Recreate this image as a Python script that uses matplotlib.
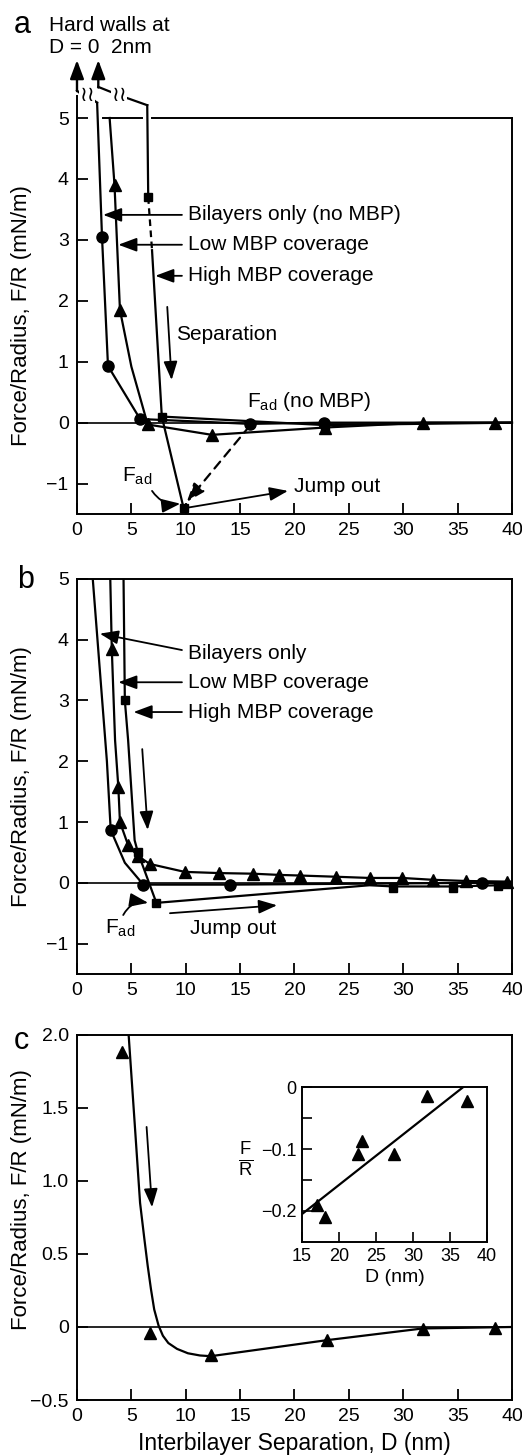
import numpy as np
import matplotlib.pyplot as plt

plt.rcParams['font.family'] = ['Liberation Sans', 'DejaVu Sans']
plt.rcParams['font.size'] = 15
plt.rcParams['axes.linewidth'] = 1.4
plt.rcParams['xtick.direction'] = 'in'
plt.rcParams['ytick.direction'] = 'in'
plt.rcParams['xtick.major.size'] = 8
plt.rcParams['ytick.major.size'] = 8
plt.rcParams['xtick.major.width'] = 1.3
plt.rcParams['ytick.major.width'] = 1.3
plt.rcParams['xtick.major.pad'] = 6
plt.rcParams['ytick.major.pad'] = 6

# === panel a data ===
a_bil_line_d = [1.85, 2.3, 2.85, 5.8, 15.9, 22.7, 40.0]
a_bil_line_f = [5.25, 3.05, 0.93, 0.06, -0.02, 0.0, 0.0]
a_bil_pts_d = [2.3, 2.85, 5.8, 15.9, 22.7]
a_bil_pts_f = [3.05, 0.93, 0.06, -0.02, 0.0]

a_low_line_d = [3.0, 3.45, 3.95, 5.0, 6.5, 12.4, 22.8, 31.8, 40.0]
a_low_line_f = [5.0, 3.9, 1.85, 0.92, -0.03, -0.2, -0.08, 0.0, 0.0]
a_low_pts_d = [3.45, 3.95, 6.5, 12.4, 22.8, 31.8, 38.4]
a_low_pts_f = [3.9, 1.85, -0.03, -0.2, -0.08, 0.0, 0.0]

a_high_top_d = [6.46, 6.55]
a_high_top_f = [5.21, 3.7]
a_high_dash_d = [6.55, 6.9]
a_high_dash_f = [3.7, 2.83]
a_high_line_d = [6.9, 7.8, 9.8]
a_high_line_f = [2.83, 0.1, -1.4]
a_high_sep_d = [7.8, 22.8, 40.0]
a_high_sep_f = [0.1, -0.04, 0.0]
a_high_pts_d = [6.55, 7.8, 9.8, 22.8]
a_high_pts_f = [3.7, 0.1, -1.4, -0.05]

# === panel b data ===
b_bil_line_d = [1.2, 1.45, 2.75, 3.1, 4.4, 6.1, 14.1, 37.2, 40.0]
b_bil_line_f = [5.6, 5.0, 2.0, 0.87, 0.33, -0.03, -0.03, 0.0, 0.0]
b_bil_pts_d = [3.1, 6.1, 14.1, 37.2]
b_bil_pts_f = [0.87, -0.03, -0.03, 0.0]

b_low_line_d = [3.0, 3.2, 3.5, 3.8, 3.95, 4.7, 5.6, 6.7, 9.9, 13.1, 16.2, 18.6,
                20.5, 23.8, 26.9, 29.9, 32.7, 35.8, 39.5, 40.0]
b_low_line_f = [5.5, 3.85, 2.35, 1.58, 1.0, 0.62, 0.44, 0.31, 0.18, 0.16, 0.15, 0.13,
                0.12, 0.10, 0.08, 0.08, 0.05, 0.03, 0.02, 0.02]
b_low_pts_d = [3.2, 3.8, 3.95, 4.7, 5.6, 6.7, 9.9, 13.1, 16.2, 18.6, 20.5, 23.8,
               26.9, 29.9, 32.7, 35.8, 39.5]
b_low_pts_f = [3.85, 1.58, 1.0, 0.62, 0.44, 0.31, 0.18, 0.16, 0.15, 0.13, 0.12, 0.10,
               0.08, 0.08, 0.05, 0.03, 0.02]

b_high_line_d = [4.25, 4.4, 4.7, 5.3, 5.6, 7.3, 26.9, 29.1, 34.6, 38.7, 40.0]
b_high_line_f = [5.5, 3.0, 2.35, 0.7, 0.5, -0.33, -0.04, -0.06, -0.06, -0.04, -0.03]
b_high_pts_d = [4.4, 5.6, 7.3, 29.1, 34.6, 38.7]
b_high_pts_f = [3.0, 0.5, -0.33, -0.08, -0.08, -0.05]

# === panel c data ===
c_line_d = [4.6, 4.75, 5.3, 5.8, 6.2, 6.5, 6.8, 7.1, 7.5, 7.9, 8.4, 9.2, 10.2, 11.3,
            12.3, 23.0, 31.8, 40.0]
c_line_f = [2.2, 2.0, 1.4, 0.85, 0.6, 0.42, 0.26, 0.12, 0.01, -0.06, -0.11, -0.15,
            -0.18, -0.195, -0.2, -0.09, -0.01, 0.0]
c_pts_d = [4.1, 6.7, 12.3, 23.0, 31.8, 38.4]
c_pts_f = [1.88, -0.04, -0.19, -0.09, -0.015, -0.005]

# inset: adhesion vs D with straight fit
ins_d = [17.0, 18.1, 22.6, 23.1, 27.4, 31.9, 37.3]
ins_f = [-0.19, -0.21, -0.108, -0.087, -0.108, -0.015, -0.023]
ins_fit_d = [15.0, 36.8]
ins_fit_f = [-0.205, 0.0]

xticks = [0, 5, 10, 15, 20, 25, 30, 35, 40]
ab_yticks = [-1, 0, 1, 2, 3, 4, 5]
ab_ylabels = ['\u22121', '0', '1', '2', '3', '4', '5']
c_yticks = [-0.5, 0, 0.5, 1.0, 1.5, 2.0]
c_ylabels = ['\u22120.5', '0', '0.5', '1.0', '1.5', '2.0']

lw = 1.6
fs = 15
arr = dict(arrowstyle='-|>,head_length=0.75,head_width=0.28', lw=1.3, color='k',
           shrinkA=0, shrinkB=0)

fig = plt.figure(figsize=(5.22, 14.55), dpi=100)
ax_a = fig.add_axes([0.1475, 0.6467, 0.8333, 0.2722])
ax_b = fig.add_axes([0.1475, 0.3306, 0.8333, 0.2715])
ax_c = fig.add_axes([0.1475, 0.0378, 0.8333, 0.2509])
ax_i = fig.add_axes([0.5785, 0.1464, 0.3544, 0.1065])

for ax in (ax_a, ax_b, ax_c):
    ax.set_xlim(0, 40)
    ax.set_xticks(xticks)
    ax.axhline(0, color='k', lw=1.2, zorder=1)
    ax.tick_params(top=False, right=False, labelsize=14)

# ---- panel a ----
ax = ax_a
ax.set_ylim(-1.5, 5)
ax.set_yticks(ab_yticks)
ax.set_yticklabels(ab_ylabels)
ax.spines['top'].set_visible(False)
ax.spines['left'].set_visible(False)
ax.plot([0, 0], [-1.5, 5.38], color='k', lw=1.4, clip_on=False, solid_capstyle='butt')
ax.plot([2.4, 5.98], [5, 5], color='k', lw=1.4, clip_on=False)
ax.plot([6.9, 40], [5, 5], color='k', lw=1.4, clip_on=False)

ax.plot(a_bil_line_d, a_bil_line_f, color='k', lw=lw, clip_on=False)
ax.plot(a_low_line_d, a_low_line_f, color='k', lw=lw, clip_on=False)
ax.plot(a_high_top_d, a_high_top_f, color='k', lw=lw, clip_on=False)
ax.plot(a_high_dash_d, a_high_dash_f, color='k', lw=lw, ls=(0, (3, 2)))
ax.plot(a_high_line_d, a_high_line_f, color='k', lw=lw)
ax.plot(a_high_sep_d, a_high_sep_f, color='k', lw=lw)
ax.plot(a_bil_pts_d, a_bil_pts_f, 'o', color='k', ms=8, clip_on=False)
ax.plot(a_low_pts_d, a_low_pts_f, '^', color='k', ms=8, clip_on=False)
ax.plot(a_high_pts_d, a_high_pts_f, 's', color='k', ms=6, clip_on=False)

# hard wall arrows above the frame
ax.plot([0, 0.45, 1.5, 1.85], [5.45, 5.38, 5.3, 5.25], color='k', lw=lw, clip_on=False)
ax.annotate('', xy=(0, 5.95), xytext=(0, 5.44), annotation_clip=False,
            arrowprops=dict(arr, lw=1.7))
ax.plot([1.96, 3.5], [5.51, 5.4], color='k', lw=lw, clip_on=False)
ax.plot([4.25, 6.46], [5.35, 5.21], color='k', lw=lw, clip_on=False)
ax.annotate('', xy=(1.96, 5.95), xytext=(1.96, 5.5), annotation_clip=False,
            arrowprops=dict(arr, lw=1.7))
for bx, by in [(0.95, 5.37), (3.9, 5.38)]:
    ax.text(bx, by, '\u2240\u2240', ha='center', va='center', fontsize=15,
            family=['DejaVu Sans'], clip_on=False,
            bbox=dict(fc='white', ec='none', pad=0.2))

ax.annotate('', xy=(2.4, 3.41), xytext=(9.65, 3.41), arrowprops=arr)
ax.text(10.2, 3.41, 'Bilayers only (no MBP)', va='center', fontsize=fs)
ax.annotate('', xy=(3.8, 2.92), xytext=(9.65, 2.92), arrowprops=arr)
ax.text(10.2, 2.92, 'Low MBP coverage', va='center', fontsize=fs)
ax.annotate('', xy=(7.2, 2.41), xytext=(9.65, 2.41), arrowprops=arr)
ax.text(10.2, 2.41, 'High MBP coverage', va='center', fontsize=fs)
ax.annotate('', xy=(8.7, 0.7), xytext=(8.3, 1.9), arrowprops=arr)
ax.text(9.1, 1.44, 'Separation', va='center', fontsize=fs)
ax.text(15.6, 0.35, r'F$_{\mathregular{ad}}$ (no MBP)', va='center', fontsize=fs)
ax.annotate('', xy=(10.1, -1.3), xytext=(15.9, -0.05),
            arrowprops=dict(arr, lw=1.6, ls=(0, (4, 3))))
ax.text(5.5, -0.88, r'F$_{\mathregular{ad}}$', ha='center', va='center', fontsize=fs)
ax.annotate('', xy=(9.5, -1.33), xytext=(6.9, -1.12),
            arrowprops=dict(arr, connectionstyle='arc3,rad=0.3'))
ax.annotate('', xy=(19.4, -1.12), xytext=(10.0, -1.4), arrowprops=arr)
ax.text(20.0, -1.05, 'Jump out', va='center', fontsize=fs)

# ---- panel b ----
ax = ax_b
ax.set_ylim(-1.5, 5)
ax.set_yticks(ab_yticks)
ax.set_yticklabels(ab_ylabels)
ax.plot(b_bil_line_d, b_bil_line_f, color='k', lw=lw)
ax.plot(b_low_line_d, b_low_line_f, color='k', lw=lw)
ax.plot(b_high_line_d, b_high_line_f, color='k', lw=lw)
ax.plot(b_bil_pts_d, b_bil_pts_f, 'o', color='k', ms=8, clip_on=False)
ax.plot(b_low_pts_d, b_low_pts_f, '^', color='k', ms=8, clip_on=False)
ax.plot(b_high_pts_d, b_high_pts_f, 's', color='k', ms=6, clip_on=False)

ax.annotate('', xy=(2.1, 4.1), xytext=(9.65, 3.83), arrowprops=arr)
ax.text(10.2, 3.78, 'Bilayers only', va='center', fontsize=fs)
ax.annotate('', xy=(3.8, 3.3), xytext=(9.65, 3.3), arrowprops=arr)
ax.text(10.2, 3.3, 'Low MBP coverage', va='center', fontsize=fs)
ax.annotate('', xy=(5.2, 2.81), xytext=(9.65, 2.81), arrowprops=arr)
ax.text(10.2, 2.81, 'High MBP coverage', va='center', fontsize=fs)
ax.annotate('', xy=(6.5, 0.87), xytext=(6.0, 2.2), arrowprops=arr)
ax.text(4.0, -0.74, r'F$_{\mathregular{ad}}$', ha='center', va='center', fontsize=fs)
ax.annotate('', xy=(6.55, -0.33), xytext=(4.25, -0.53),
            arrowprops=dict(arr, connectionstyle='arc3,rad=-0.35'))
ax.annotate('', xy=(18.4, -0.37), xytext=(8.55, -0.5), arrowprops=arr)
ax.text(10.4, -0.75, 'Jump out', va='center', fontsize=fs)

# ---- panel c ----
ax = ax_c
ax.set_ylim(-0.5, 2.0)
ax.set_yticks(c_yticks)
ax.set_yticklabels(c_ylabels)
ax.plot(c_line_d, c_line_f, color='k', lw=lw)
ax.plot(c_pts_d, c_pts_f, '^', color='k', ms=8, clip_on=False)
ax.annotate('', xy=(6.9, 0.82), xytext=(6.4, 1.37), arrowprops=arr)
ax.set_xlabel('Interbilayer Separation, D (nm)', fontsize=16.5, labelpad=5)

# inset
ax = ax_i
ax.set_xlim(15, 40)
ax.set_ylim(-0.25, 0)
ax.set_xticks([15, 20, 25, 30, 35, 40])
ax.set_yticks([-0.2, -0.1, 0])
ax.set_yticklabels(['\u22120.2', '\u22120.1', '0'])
ax.set_yticks([-0.15, -0.05], minor=True)
ax.tick_params(which='both', direction='in', labelsize=13, top=False, right=False,
               length=7, width=1.2, pad=4)
ax.plot(ins_fit_d, ins_fit_f, color='k', lw=lw)
ax.plot(ins_d, ins_f, '^', color='k', ms=8)
ax.set_xlabel('D (nm)', fontsize=14, labelpad=3)
fig.text(0.47, 0.203, r'$\mathregular{\frac{F}{R}}$', fontsize=19, ha='center', va='center')

# y labels and panel letters
ylab = 'Force/Radius, F/R (mN/m)'
fig.text(0.042, 0.6467 + 0.2722 / 2, ylab, rotation=90, ha='center', va='center', fontsize=16)
fig.text(0.042, 0.3306 + 0.2715 / 2, ylab, rotation=90, ha='center', va='center', fontsize=16)
fig.text(0.042, 0.0378 + 0.2509 / 2 + 0.012, ylab, rotation=90, ha='center', va='center', fontsize=16)
fig.text(0.042, 0.9825, 'a', fontsize=22, ha='center', va='center')
fig.text(0.048, 0.6015, 'b', fontsize=22, ha='center', va='center')
fig.text(0.040, 0.2845, 'c', fontsize=22, ha='center', va='center')
fig.text(0.094, 0.9825, 'Hard walls at', fontsize=15, va='center')
fig.text(0.094, 0.9675, 'D = 0  2nm', fontsize=15, va='center')

fig.savefig('out.png', dpi=100)
